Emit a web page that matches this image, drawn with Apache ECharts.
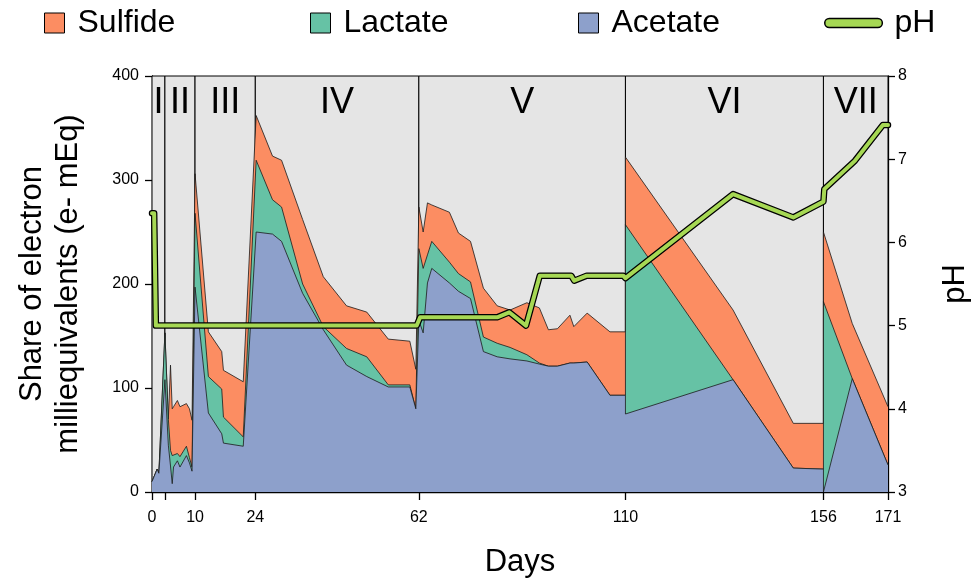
<!DOCTYPE html>
<html><head><meta charset="utf-8">
<script src="https://cdn.jsdelivr.net/npm/echarts@6/dist/echarts.min.js"></script>
<style>html,body{margin:0;padding:0;background:#fff;overflow:hidden}#c{width:971px;height:580px}</style>
</head><body><div id="c"></div>
<script>
// ---- data ----
const days = [0,1.2,1.6, 3.0,3.8,4.3,4.7,5.0,5.9,6.5,8.0,8.7,9.3, 10.0,13.1,16.2,16.6,21.2,
  24.2,28.0,30.1,35.0,39.8,45.2,49.9,54.9,59.9,61.3,
  62.0,63.0,64.0,65.0,69.1,71.2,74.0,77.0,80.2,83.2,87.1,90.0,92.1,94.2,97.1,98.0,101.1,106.4,110.0,
  110.0,135.0,149.0,156.0, 156.0,162.7,171.0];
const acetate = [10,22,18, 108,45,25,8,24,30,24,35,28,20, 197,76,56,47,44,
  250,248,241,191,156,122,111,101,101,80,
  165,153,201,215,201,193,186,135,130,128,126,123,121,121,124,124,125,93,93,
  75,108,23,22, 0,109,26];
const lactate = [0,0,0, 45,25,15,27,10,7,10,9,5,4, 71,35,43,25,9,
  69,33,33,9,3,16,19,2,2,0,
  69,62,27,26,20,17,16,14,13,11,6,1,0,0,0,0,0,0,0,
  182,0,0,0, 183,0,0];
const sulfide = [0,0,0, 0,0,82,45,48,51,48,41,47,45, 38,43,36,45,53,
  43,42,45,62,48,41,43,44,42,38,
  40,35,50,35,48,39,39,47,36,36,50,53,35,36,46,35,47,61,61,
  65,67,43,44, 67,53,56];
const phDays = [0,0.5,0.9,61.5,62.3,80.2,83.0,86.9,90.1,97.4,98.1,101.0,109.5,110.0,135.0,149.0,156.0,156.2,163.3,169.8,171];
const phValues = [6.35,6.35,5.0,5.0,5.10,5.10,5.16,5.0,5.6,5.6,5.54,5.6,5.6,5.57,6.58,6.30,6.49,6.64,6.98,7.41,7.41];
const phaseNames = ['I','II','III','IV','V','VI','VII'];
const phaseBounds = [0,3,10,24,62,110,156,171];
const xTickValues = [0,3,10,24,62,110,156,171];
const xLabelValues = [0,10,24,62,110,156,171];

// ---- chart ----
const F = '"Liberation Sans", Arial, sans-serif';
const chart = echarts.init(document.getElementById('c'), null, {renderer:'canvas'});

// cumulative tops of the stack (acetate bottom, lactate middle, sulfide top)
const topAcetate = acetate.slice();
const topLactate = acetate.map((a, i) => a + lactate[i]);
const topSulfide = topLactate.map((v, i) => v + sulfide[i]);
const pairs = (xs, ys) => xs.map((x, i) => [x, ys[i]]);

function areaSeries(name, tops, color, z) {
  return {name, type:'line', data: pairs(days, tops), showSymbol:false, symbol:'none',
    lineStyle:{color:'#1a1a1a', width:0.8}, areaStyle:{color, opacity:1, origin:'start'}, itemStyle:{color}, z};
}
function areaLegend(name, color, left) {
  return {left, top:7, padding:0, itemWidth:20, itemHeight:20, icon:'rect', selectedMode:false,
    textStyle:{fontSize:32, color:'#000', fontFamily:F, padding:[0,0,0,8]},
    data:[{name, itemStyle:{color, borderColor:'#000', borderWidth:1}}]};
}
const phaseAreas = phaseNames.map((n, i) => [
  {name:n, xAxis:phaseBounds[i], yAxis:0}, {xAxis:phaseBounds[i+1], yAxis:400}]);

const sulf = areaSeries('Sulfide', topSulfide, '#fc8d62', 2);
sulf.markArea = {silent:true, z:1, itemStyle:{color:'#e5e5e5', borderColor:'#000', borderWidth:1},
  label:{show:true, position:'insideTop', distance:10, fontSize:36, color:'#000', fontFamily:F},
  data: phaseAreas};

const option = {
  animation:false,
  backgroundColor:'#fff',
  grid:{left:152, right:83, top:76, bottom:88, containLabel:false, outerBoundsMode:'none'},
  legend:[
    areaLegend('Sulfide', '#fc8d62', 44),
    areaLegend('Lactate', '#66c2a5', 310),
    areaLegend('Acetate', '#8da0cb', 578),
    {left:824, top:7, padding:0, itemWidth:64, itemHeight:9, selectedMode:false,
     textStyle:{fontSize:32, color:'#000', fontFamily:F, padding:[0,0,0,4]},
     data:[{name:'pH', icon:'path://M5,0 H59 A5,5 0 0 1 59,10 H5 A5,5 0 0 1 5,0 Z',
       itemStyle:{color:'#a6d854', borderColor:'#000', borderWidth:1.5}}]}
  ],
  xAxis:{type:'value', min:0, max:171,
    axisLine:{show:true, onZero:false, lineStyle:{color:'#000', width:1.3}},
    axisTick:{show:true, length:8, customValues:xTickValues, lineStyle:{color:'#000', width:1.3}},
    axisLabel:{customValues:xLabelValues, fontSize:16, color:'#000', margin:18, fontFamily:F},
    splitLine:{show:false},
    name:'Days', nameLocation:'middle', nameGap:55, nameTextStyle:{fontSize:31, color:'#000', fontFamily:F}},
  yAxis:[
    {type:'value', min:0, max:400, interval:100, position:'left',
     axisLine:{show:true, lineStyle:{color:'#000', width:1.3}},
     axisTick:{show:true, length:7, lineStyle:{color:'#000', width:1.3}},
     axisLabel:{fontSize:16, color:'#000', margin:13, fontFamily:F},
     splitLine:{show:false},
     name:'Share of electron\nmilliequivalents (e- mEq)', nameLocation:'middle', nameGap:66,
     nameTextStyle:{fontSize:31, color:'#000', fontFamily:F, lineHeight:36}},
    {type:'value', min:3, max:8, interval:1, position:'right',
     axisLine:{show:true, lineStyle:{color:'#000', width:1.3}},
     axisTick:{show:true, length:7, lineStyle:{color:'#000', width:1.3}},
     axisLabel:{fontSize:16, color:'#000', margin:10, fontFamily:F},
     splitLine:{show:false},
     name:'pH', nameLocation:'middle', nameGap:52, nameTextStyle:{fontSize:31, color:'#000', fontFamily:F}}
  ],
  series:[
    sulf,
    areaSeries('Lactate', topLactate, '#66c2a5', 3),
    areaSeries('Acetate', topAcetate, '#8da0cb', 4),
    {name:'pHoutline', type:'line', yAxisIndex:1, data:pairs(phDays, phValues), showSymbol:false, symbol:'none',
     lineStyle:{color:'#000', width:6.5, cap:'round', join:'round'}, z:5},
    {name:'pH', type:'line', yAxisIndex:1, data:pairs(phDays, phValues), showSymbol:false, symbol:'none',
     lineStyle:{color:'#a6d854', width:4, cap:'round', join:'round'}, itemStyle:{color:'#a6d854'}, z:6}
  ]
};
chart.setOption(option);
</script></body></html>
